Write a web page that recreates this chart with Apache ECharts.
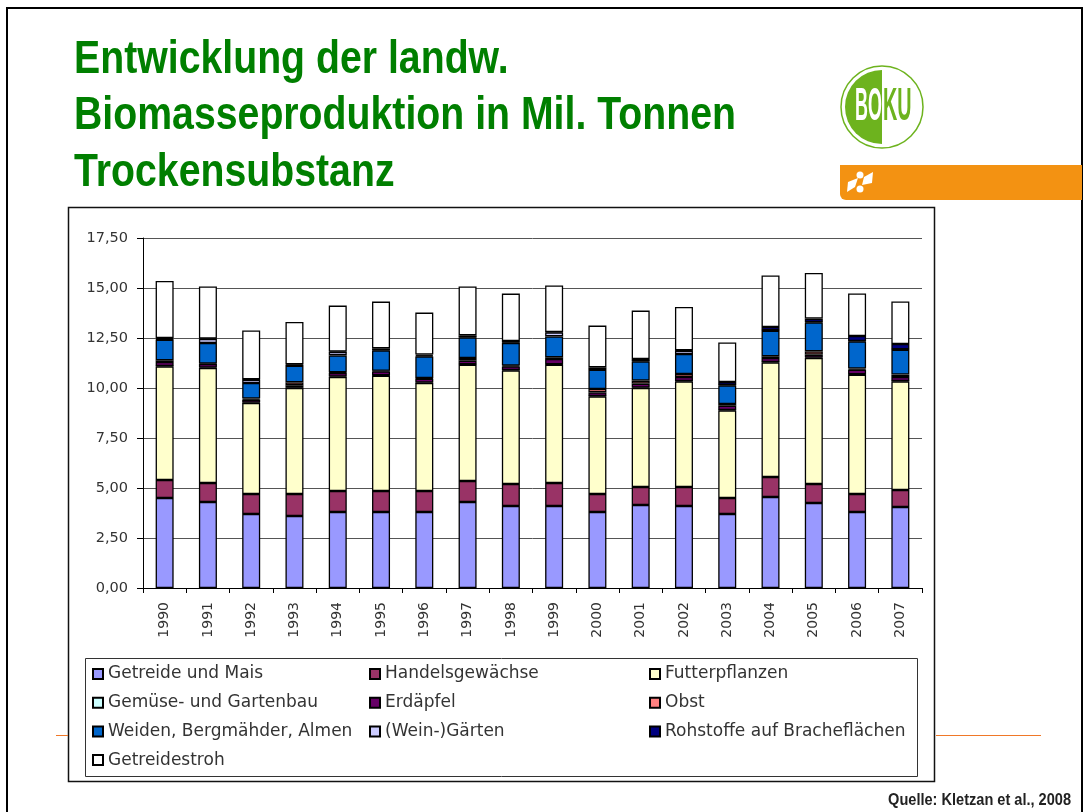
<!DOCTYPE html>
<html>
<head>
<meta charset="utf-8">
<style>
html, body { margin: 0; padding: 0; background: #fff; }
#Chart { width: 1085px; height: 812px; }
</style>
<script src="https://cdn.jsdelivr.net/npm/echarts@6/dist/echarts.min.js"></script>
</head>
<body>
<div id="Chart"></div>
<script>
var years = ['1990', '1991', '1992', '1993', '1994', '1995', '1996', '1997', '1998', '1999', '2000', '2001', '2002', '2003', '2004', '2005', '2006', '2007'];
var getreide = [4.5, 4.3, 3.7, 3.6, 3.8, 3.8, 3.8, 4.3, 4.1, 4.1, 3.8, 4.15, 4.1, 3.7, 4.55, 4.25, 3.8, 4.05];
var handel = [0.9, 0.95, 1.0, 1.1, 1.05, 1.05, 1.05, 1.05, 1.1, 1.15, 0.9, 0.9, 0.95, 0.8, 1.0, 0.95, 0.9, 0.85];
var futter = [5.68, 5.75, 4.55, 5.3, 5.7, 5.77, 5.4, 5.82, 5.68, 5.92, 4.88, 4.95, 5.28, 4.38, 5.73, 6.3, 5.97, 5.43];
var gemuese = [0.02, 0.02, 0.02, 0.02, 0.02, 0.02, 0.02, 0.02, 0.02, 0.02, 0.02, 0.02, 0.02, 0.02, 0.02, 0.02, 0.02, 0.02];
var erdaepfel = [0.2, 0.18, 0.15, 0.11, 0.18, 0.19, 0.2, 0.18, 0.18, 0.26, 0.18, 0.2, 0.2, 0.22, 0.2, 0.15, 0.23, 0.2];
var obst = [0.08, 0.02, 0.05, 0.15, 0.03, 0.03, 0.03, 0.13, 0.04, 0.08, 0.17, 0.15, 0.15, 0.08, 0.08, 0.16, 0.05, 0.12];
var weiden = [1.04, 1.03, 0.78, 0.84, 0.85, 1.02, 1.08, 1.03, 1.13, 1.05, 0.97, 0.96, 1.0, 0.93, 1.29, 1.45, 1.36, 1.25];
var weingaerten = [0.03, 0.2, 0.17, 0.02, 0.17, 0.02, 0.04, 0.02, 0.02, 0.2, 0.02, 0.02, 0.17, 0.02, 0.02, 0.02, 0.02, 0.02];
var rohstoffe = [0.05, 0.02, 0.02, 0.04, 0.02, 0.08, 0.05, 0.08, 0.08, 0.02, 0.09, 0.1, 0.02, 0.15, 0.16, 0.17, 0.25, 0.26];
var stroh = [2.85, 2.61, 2.44, 2.12, 2.3, 2.34, 2.1, 2.45, 2.37, 2.33, 2.09, 2.42, 2.16, 1.98, 2.58, 2.28, 2.13, 2.13];

var titleLines = 'Entwicklung der landw.\nBiomasseproduktion in Mil. Tonnen\nTrockensubstanz';
var labelFont = '"DejaVu Sans", Verdana, sans-serif';
var narrowFont = '"Liberation Sans", Arial, sans-serif';

function stackBar(name, values, color) {
    return {
        name: name,
        type: 'bar',
        stack: 'total',
        barWidth: 18,
        data: values,
        itemStyle: { color: color, borderColor: '#000', borderWidth: 1.3 }
    };
}

function legendColumn(left, names) {
    return {
        left: left,
        top: 665,
        orient: 'vertical',
        icon: 'rect',
        itemWidth: 10,
        itemHeight: 10,
        itemGap: 10.7,
        padding: 0,
        data: names,
        textStyle: { color: '#333', fontFamily: labelFont, fontSize: 17, lineHeight: 18 }
    };
}

var Chart = echarts.init(document.getElementById('Chart'));

var option = {
    backgroundColor: '#fff',
    animation: false,
    grid: { left: 143, top: 238, width: 779, height: 350 },
    legend: [
        legendColumn(92, ['Getreide und Mais', 'Gemüse- und Gartenbau', 'Weiden, Bergmähder, Almen', 'Getreidestroh']),
        legendColumn(369, ['Handelsgewächse', 'Erdäpfel', '(Wein-)Gärten']),
        legendColumn(649, ['Futterpflanzen', 'Obst', 'Rohstoffe auf Bracheflächen'])
    ],
    xAxis: {
        type: 'category',
        data: years,
        axisLine: { lineStyle: { color: '#000', width: 1 } },
        axisTick: { show: true, alignWithLabel: false, length: 5, lineStyle: { color: '#000' } },
        axisLabel: { rotate: 90, color: '#333', fontFamily: labelFont, fontSize: 14, margin: 14 }
    },
    yAxis: {
        type: 'value',
        min: 0,
        max: 17.5,
        interval: 2.5,
        axisLine: { show: true, lineStyle: { color: '#000', width: 1 } },
        axisTick: { show: true, length: 6, lineStyle: { color: '#000' } },
        splitLine: { lineStyle: { color: '#555', width: 1 } },
        axisLabel: {
            color: '#333',
            fontFamily: labelFont,
            fontSize: 14.5,
            margin: 15,
            formatter: function (v) { return v.toFixed(2).replace('.', ','); }
        }
    },
    series: [
        stackBar('Getreide und Mais', getreide, '#9999FF'),
        stackBar('Handelsgewächse', handel, '#993366'),
        stackBar('Futterpflanzen', futter, '#FFFFCC'),
        stackBar('Gemüse- und Gartenbau', gemuese, '#CCFFFF'),
        stackBar('Erdäpfel', erdaepfel, '#660066'),
        stackBar('Obst', obst, '#FF8080'),
        stackBar('Weiden, Bergmähder, Almen', weiden, '#0066CC'),
        stackBar('(Wein-)Gärten', weingaerten, '#CCCCFF'),
        stackBar('Rohstoffe auf Bracheflächen', rohstoffe, '#000080'),
        stackBar('Getreidestroh', stroh, '#FFFFFF')
    ],
    graphic: [
        // slide border and the thin orange rule behind the chart
        { type: 'rect', z: -10, shape: { x: 7, y: 8, width: 1075, height: 820 }, style: { fill: '#fff', stroke: '#000', lineWidth: 2 } },
        // chart frame and legend box
        { type: 'rect', z: -8, shape: { x: 68.5, y: 207.5, width: 866, height: 574 }, style: { fill: '#fff', stroke: '#111', lineWidth: 1.5 } },
        { type: 'rect', z: -7, shape: { x: 85.5, y: 658.5, width: 832, height: 118 }, style: { fill: '#fff', stroke: '#333', lineWidth: 1 } },
        { type: 'rect', z: -6, shape: { x: 56, y: 735, width: 12, height: 1 }, style: { fill: '#F07828' } },
        { type: 'rect', z: -6, shape: { x: 936, y: 735, width: 105, height: 1 }, style: { fill: '#F07828' } },
        // title
        { type: 'text', x: 74, y: 32, scaleX: 0.853, style: { text: titleLines, fill: '#007f00', font: 'bold 46px ' + narrowFont, lineHeight: 56.5 } },
        // orange band
        { type: 'rect', z: -6, shape: { x: 840, y: 165, width: 242, height: 35, r: [0, 0, 0, 6] }, style: { fill: '#F39212' } },
        { type: 'circle', z: -5, shape: { cx: 860, cy: 175, r: 3.5 }, style: { fill: '#fff' } },
        { type: 'circle', z: -5, shape: { cx: 860, cy: 189, r: 3.5 }, style: { fill: '#fff' } },
        { type: 'polygon', z: -5, shape: { points: [[847, 192], [848, 182], [858, 178], [855, 187]] }, style: { fill: '#fff' } },
        { type: 'polygon', z: -5, shape: { points: [[862, 185], [872, 183], [873, 172], [864, 177]] }, style: { fill: '#fff' } },
        // BOKU logo
        { type: 'circle', z: -5, shape: { cx: 882, cy: 107, r: 41 }, style: { fill: '#fff', stroke: '#6DB31E', lineWidth: 1.5 } },
        { type: 'sector', z: -5, shape: { cx: 882, cy: 107, r: 37, r0: 0, startAngle: Math.PI / 2, endAngle: Math.PI * 1.5 }, style: { fill: '#6DB31E' } },
        { type: 'text', z: -4, x: 855, y: 84, scaleX: 0.39, style: { text: 'BO', fill: '#fff', font: 'bold 46px ' + narrowFont } },
        { type: 'text', z: -4, x: 883, y: 84, scaleX: 0.43, style: { text: 'KU', fill: '#6DB31E', font: 'bold 46px ' + narrowFont } },
        // source
        { type: 'text', x: 1071, y: 793, scaleX: 0.91, style: { text: 'Quelle: Kletzan et al., 2008', align: 'right', fill: '#222', font: 'bold 16px ' + narrowFont } }
    ]
};

Chart.setOption(option);
</script>
</body>
</html>
